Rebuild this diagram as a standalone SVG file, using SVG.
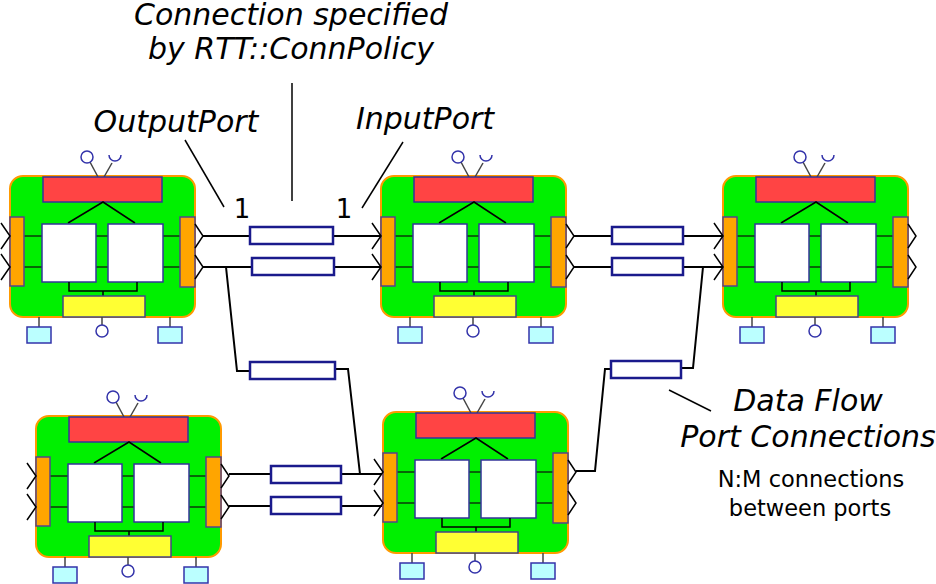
<svg xmlns="http://www.w3.org/2000/svg" xmlns:xlink="http://www.w3.org/1999/xlink" width="936" height="584" viewBox="0 0 936 584">
<style>
.body{fill:#00f000;stroke:#ff9900;stroke-width:2}
.red{fill:#ff4444;stroke:#333399;stroke-width:1.5}
.bar{fill:#ffa500;stroke:#554488;stroke-width:1.5}
.box{fill:#ffffff;stroke:#333399;stroke-width:1.5}
.yel{fill:#ffff33;stroke:#444488;stroke-width:1.5}
.cy{fill:#bbffff;stroke:#3333aa;stroke-width:1.5}
.ring{fill:none;stroke:#3333aa;stroke-width:1.5}
.ln{fill:none;stroke:#000;stroke-width:1.5}
.gl{fill:none;stroke:#0a3a0a;stroke-width:1.5}
.gr{fill:none;stroke:#444;stroke-width:1.5}
.cn{fill:none;stroke:#000;stroke-width:2}
.cb{fill:#fff;stroke:#1a1a8c;stroke-width:2.5}
.it{font-family:"DejaVu Sans",sans-serif;font-style:italic;font-size:30px;fill:#000;text-anchor:middle}
.nm{font-family:"DejaVu Sans",sans-serif;font-size:22.5px;fill:#000;text-anchor:middle}
</style>
<defs>
<g id="comp">
<rect class="body" x="0" y="0" width="185" height="141" rx="13"/>
<line class="gr" x1="80" y1="-14" x2="88" y2="1"/>
<line class="gr" x1="94" y1="1" x2="102" y2="-13"/>
<circle class="ring" cx="77" cy="-19" r="6"/>
<path class="ring" d="M99,-21 A6,6 0 1 0 111,-21"/>
<rect class="red" x="33" y="1" width="119" height="25"/>
<path class="ln" d="M58,47 L93,26 L125,47"/>
<path class="gl" d="M14,60 H32 M86,60 H98 M153,60 H170 M14,91 H32 M86,91 H98 M153,91 H170"/>
<rect class="box" x="32" y="48" width="54" height="58"/>
<rect class="box" x="98" y="48" width="55" height="58"/>
<path class="ln" d="M59,106 V115 H127 V106 M93,115 V120"/>
<rect class="yel" x="53" y="120" width="82" height="21"/>
<rect class="bar" x="0" y="41" width="14" height="69"/>
<rect class="bar" x="170" y="41" width="15" height="70"/>
<path class="ln" d="M-9,47 L0,60 L-9,73 M-9,78 L0,91 L-9,104"/>
<path class="ln" d="M185,48 L193,60 L185,72 M185,79 L193,91 L185,103"/>
<line class="gr" x1="92" y1="141" x2="92" y2="149"/>
<circle class="ring" cx="92" cy="155" r="6"/>
<line class="gr" x1="29" y1="141" x2="29" y2="151"/>
<line class="gr" x1="160" y1="141" x2="160" y2="151"/>
<rect class="cy" x="17" y="151" width="24" height="16"/>
<rect class="cy" x="148" y="151" width="24" height="16"/>
</g>
</defs>
<g id="connectors">
<path class="cn" d="M203,236 H381"/>
<path class="cn" d="M203,267 H381"/>
<path class="cn" d="M226,267 L237,371 H250"/>
<path class="cn" d="M335,369 H348 L360,474 H383"/>
<path class="cn" d="M229,474 H383"/>
<path class="cn" d="M229,506 H383"/>
<path class="cn" d="M574,236 H723"/>
<path class="cn" d="M574,267 H723"/>
<path class="cn" d="M576,471 H595 L605,369 H611"/>
<path class="cn" d="M681,368 H693 L703,267"/>
<rect class="cb" x="250" y="227" width="83" height="17"/>
<rect class="cb" x="252" y="258" width="82" height="17"/>
<rect class="cb" x="250" y="362" width="85" height="17"/>
<rect class="cb" x="271" y="466" width="70" height="17"/>
<rect class="cb" x="271" y="497" width="70" height="17"/>
<rect class="cb" x="612" y="227" width="71" height="17"/>
<rect class="cb" x="612" y="258" width="71" height="17"/>
<rect class="cb" x="611" y="361" width="70" height="17"/>
</g>
<g id="c1" transform="translate(10,176)"><use xlink:href="#comp"/></g>
<g id="c2" transform="translate(381,176)"><use xlink:href="#comp"/></g>
<g id="c3" transform="translate(723,176)"><use xlink:href="#comp"/></g>
<g id="c4" transform="translate(36,416)"><use xlink:href="#comp"/></g>
<g id="c5" transform="translate(383,412)"><use xlink:href="#comp"/></g>
<g id="labels">
<text class="it" x="291" y="25">Connection specified</text>
<text class="it" x="291" y="59">by RTT::ConnPolicy</text>
<line class="ln" x1="292" y1="83" x2="292" y2="201"/>
<text class="it" x="176" y="132">OutputPort</text>
<line class="ln" x1="185" y1="140" x2="224" y2="207"/>
<text class="it" x="425" y="129">InputPort</text>
<line class="ln" x1="403" y1="142" x2="362" y2="208"/>
<text class="nm" x="242" y="218" style="font-size:26px">1</text>
<text class="nm" x="344" y="218" style="font-size:26px">1</text>
<text class="it" x="808" y="411">Data Flow</text>
<text class="it" x="808" y="447">Port Connections</text>
<line class="ln" x1="669" y1="390" x2="711" y2="411"/>
<text class="nm" x="811" y="487">N:M connections</text>
<text class="nm" x="810" y="516">between ports</text>
</g>
</svg>
